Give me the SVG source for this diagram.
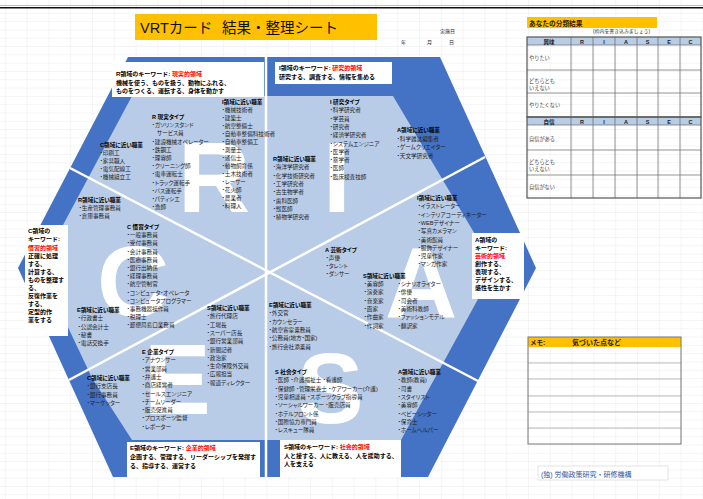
<svg xmlns="http://www.w3.org/2000/svg" width="703" height="499" viewBox="0 0 703 499">
<defs>
<pattern id="grid" x="4.8" y="4.6" width="21.8" height="8.3" patternUnits="userSpaceOnUse">
<path d="M0 0.25H21.8M0.25 0V8.3" fill="none" stroke="#e4e4e4" stroke-width="0.5"/>
</pattern>
<style>
text{font-family:"Liberation Sans","Noto Sans CJK JP",sans-serif}
.t{font-size:5.6px;fill:#222;font-feature-settings:"palt"}
.h{font-weight:bold;fill:#000}
.k{font-size:6px;font-weight:bold;fill:#000}
.red{fill:#ff0000}
.big{font-size:100px;font-weight:bold;fill:#fff}
.box{fill:#fff}
.div{stroke:#fff;stroke-width:2.5;fill:none}
.cell{fill:none;stroke:#666;stroke-width:0.7}
.frame{fill:none;stroke:#555;stroke-width:1.2}
.lab{font-size:5.2px;fill:#444}
.hd{font-size:5.5px;font-weight:bold;fill:#222;text-anchor:middle}
</style>
</defs>
<rect width="703" height="499" fill="#fff"/>
<rect width="703" height="499" fill="url(#grid)"/>
<line x1="0" y1="5.5" x2="703" y2="5.5" stroke="#999" stroke-width="0.6"/>
<line x1="0" y1="7.8" x2="703" y2="7.8" stroke="#111" stroke-width="1.6"/>

<g id="title">
<rect x="135" y="14" width="242" height="26" fill="#ffc000"/>
<text x="140" y="33" font-size="14.5" fill="#111">VRTカード</text>
<text x="222" y="33" font-size="14.5" fill="#111">結果・整理シート</text>
</g>
<g id="date" font-size="5" fill="#222">
<text x="440" y="33">実施日</text>
<text x="401" y="44">年</text>
<text x="427" y="44">月</text>
<text x="449" y="44">日</text>
</g>

<g id="hexagon">
<polygon points="128,57 440,57 536,268 428,477 113,477 18,268" fill="#4472c4"/>
<polygon points="132,96 393,96 495,268 401,440 132,440 92,378 40,268" fill="#b8cbe7"/>
</g>

<g id="connectors">
<line class="div" x1="266" y1="57" x2="266" y2="477"/>
<line class="div" x1="70" y1="168" x2="478" y2="381"/>
<line class="div" x1="69" y1="380" x2="485" y2="157"/>
</g>

<g id="letters">
<text class="big" x="178" y="212">R</text>
<text class="big" x="323" y="212">I</text>
<text class="big" x="385" y="318">A</text>
<text class="big" x="97" y="316">C</text>
<text class="big" x="144" y="414">E</text>
<text class="big" x="297" y="423">S</text>
</g>

<g id="sector-R">
<text class="t" x="152" y="119"><tspan class="h">R 現実タイプ</tspan><tspan x="152" dy="8.2">・ガソリンスタンド</tspan><tspan x="157" dy="8.2">サービス員</tspan><tspan x="152" dy="8.2">・建設機械オペレーター</tspan><tspan x="152" dy="8.2">・鉄鋼工</tspan><tspan x="152" dy="8.2">・理容師</tspan><tspan x="152" dy="8.2">・クリーニング師</tspan><tspan x="152" dy="8.2">・電車運転士</tspan><tspan x="152" dy="8.2">・トラック運転手</tspan><tspan x="152" dy="8.2">・バス運転手</tspan><tspan x="152" dy="8.2">・パティシエ</tspan><tspan x="152" dy="8.2">・漁師</tspan></text>
<text class="t" x="222" y="104"><tspan class="h">I領域に近い職業</tspan><tspan x="222" dy="8">・機械技術者</tspan><tspan x="222" dy="8">・建築士</tspan><tspan x="222" dy="8">・航空整備士</tspan><tspan x="222" dy="8">・自動車整備科技術者</tspan><tspan x="222" dy="8">・自動車整備工</tspan><tspan x="222" dy="8">・測量士</tspan><tspan x="222" dy="8">・通信士</tspan><tspan x="222" dy="8">・動物飼育係</tspan><tspan x="222" dy="8">・土木技術者</tspan><tspan x="222" dy="8">・レーサー</tspan><tspan x="222" dy="8">・花火師</tspan><tspan x="222" dy="8">・農業者</tspan><tspan x="222" dy="8">・料理人</tspan></text>
<text class="t" x="100" y="147"><tspan class="h">C領域に近い職業</tspan><tspan x="100" dy="8">・印刷工</tspan><tspan x="100" dy="8">・家具職人</tspan><tspan x="100" dy="8">・電気配線工</tspan><tspan x="100" dy="8">・機械組立工</tspan></text>
</g>

<g id="sector-I">
<text class="t" x="330" y="104"><tspan class="h">I 研究タイプ</tspan><tspan x="330" dy="8.3">・科学研究者</tspan><tspan x="330" dy="8.3">・学芸員</tspan><tspan x="330" dy="8.3">・研究者</tspan><tspan x="330" dy="8.3">・経済学研究者</tspan><tspan x="330" dy="8.3">・システムエンジニア</tspan><tspan x="330" dy="8.3">・医学者</tspan><tspan x="330" dy="8.3">・薬学者</tspan><tspan x="330" dy="8.3">・医師</tspan><tspan x="330" dy="8.3">・臨床検査技師</tspan></text>
<text class="t" x="273" y="161"><tspan class="h">R領域に近い職業</tspan><tspan x="273" dy="8.3">・海洋学研究者</tspan><tspan x="273" dy="8.3">・化学技術研究者</tspan><tspan x="273" dy="8.3">・工学研究者</tspan><tspan x="273" dy="8.3">・古生物学者</tspan><tspan x="273" dy="8.3">・歯科医師</tspan><tspan x="273" dy="8.3">・獣医師</tspan><tspan x="273" dy="8.3">・植物学研究者</tspan></text>
<text class="t" x="397" y="132"><tspan class="h">A領域に近い職業</tspan><tspan x="397" dy="8.5">・科学雑誌編集者</tspan><tspan x="397" dy="8.5">・ゲームクリエイター</tspan><tspan x="397" dy="8.5">・天文学研究者</tspan></text>
</g>

<g id="sector-A">
<text class="t" x="417" y="200"><tspan class="h">I領域に近い職業</tspan><tspan x="418" dy="8.3">・イラストレーター</tspan><tspan x="418" dy="8.3">・インテリアコーディネーター</tspan><tspan x="418" dy="8.3">・WEBデザイナー</tspan><tspan x="418" dy="8.3">・写真カメラマン</tspan><tspan x="418" dy="8.3">・美術館員</tspan><tspan x="418" dy="8.3">・服飾デザイナー</tspan><tspan x="418" dy="8.3">・児童作家</tspan><tspan x="418" dy="8.3">・マンガ作家</tspan></text>
<text class="t" x="325" y="252"><tspan class="h">A 芸術タイプ</tspan><tspan x="326" dy="8">・声優</tspan><tspan x="326" dy="8">・タレント</tspan><tspan x="326" dy="8">・ダンサー</tspan></text>
<text class="t" x="363" y="278"><tspan class="h">S領域に近い職業</tspan><tspan x="364" dy="8">・美容師</tspan><tspan x="364" dy="8.3">・演奏家</tspan><tspan x="364" dy="8.3">・音楽家</tspan><tspan x="364" dy="8.3">・画家</tspan><tspan x="364" dy="8.3">・作曲家</tspan><tspan x="364" dy="8.3">・作詞家</tspan></text>
<text class="t" x="398" y="286"><tspan>・シナリオライター</tspan><tspan x="398" dy="8.3">・俳優</tspan><tspan x="398" dy="8.3">・司会者</tspan><tspan x="398" dy="8.3">・美術科教師</tspan><tspan x="398" dy="8.3">・ファッションモデル</tspan><tspan x="398" dy="8.3">・翻訳家</tspan></text>
</g>

<g id="sector-S">
<text class="t" x="269" y="307"><tspan class="h">E領域に近い職業</tspan><tspan x="269" dy="8.3">・外交官</tspan><tspan x="269" dy="8.3">・カウンセラー</tspan><tspan x="269" dy="8.3">・航空客室乗務員</tspan><tspan x="269" dy="8.3">・公務員(地方・国家)</tspan><tspan x="269" dy="8.3">・旅行会社添乗員</tspan></text>
<text class="t" x="275" y="374"><tspan class="h">S 社会タイプ</tspan><tspan x="275" dy="8.3">・医師 ・介護福祉士 ・看護師</tspan><tspan x="275" dy="8.3">・保健師 ・管理栄養士 ・ケアワーカー(介護)</tspan><tspan x="275" dy="8.3">・児童相談員 ・スポーツクラブ指導員</tspan><tspan x="275" dy="8.3">・ソーシャルワーカー ・販売店員</tspan><tspan x="275" dy="8.3">・ホテルフロント係</tspan><tspan x="275" dy="8.3">・国際協力専門員</tspan><tspan x="275" dy="8.3">・レスキュー隊員</tspan></text>
<text class="t" x="398" y="374"><tspan class="h">A領域に近い職業</tspan><tspan x="398" dy="8.3">・教師(教員)</tspan><tspan x="398" dy="8.3">・司書</tspan><tspan x="398" dy="8.3">・スタイリスト</tspan><tspan x="398" dy="8.3">・美容師</tspan><tspan x="398" dy="8.3">・ベビーシッター</tspan><tspan x="398" dy="8.3">・保育士</tspan><tspan x="398" dy="8.3">・ホームヘルパー</tspan></text>
</g>

<g id="sector-E">
<text class="t" x="207" y="310"><tspan class="h">S領域に近い職業</tspan><tspan x="207" dy="8.3">・旅行代理店</tspan><tspan x="207" dy="8.3">・工場長</tspan><tspan x="207" dy="8.3">・スーパー店長</tspan><tspan x="207" dy="8.3">・銀行営業部員</tspan><tspan x="207" dy="8.3">・新聞記者</tspan><tspan x="207" dy="8.3">・政治家</tspan><tspan x="207" dy="8.3">・生命保険外交員</tspan><tspan x="207" dy="8.3">・広報担当</tspan><tspan x="207" dy="8.3">・報道ディレクター</tspan></text>
<text class="t" x="142" y="354"><tspan class="h">E 企業タイプ</tspan><tspan x="142" dy="8.3">・アナウンサー</tspan><tspan x="142" dy="8.3">・営業部員</tspan><tspan x="142" dy="8.3">・弁護士</tspan><tspan x="142" dy="8.3">・商店経営者</tspan><tspan x="142" dy="8.3">・セールスエンジニア</tspan><tspan x="142" dy="8.3">・チームリーダー</tspan><tspan x="142" dy="8.3">・販売促進員</tspan><tspan x="142" dy="8.3">・プロスポーツ監督</tspan><tspan x="142" dy="8.3">・レポーター</tspan></text>
<text class="t" x="87" y="380"><tspan class="h">C領域に近い職業</tspan><tspan x="87" dy="8.3">・銀行支店長</tspan><tspan x="87" dy="8.3">・銀行事務員</tspan><tspan x="87" dy="8.3">・マーケッター</tspan></text>
</g>

<g id="sector-C">
<text class="t" x="78" y="202"><tspan class="h">R領域に近い職業</tspan><tspan x="79" dy="8">・生産管理事務員</tspan><tspan x="79" dy="8">・倉庫事務員</tspan></text>
<text class="t" x="127" y="229"><tspan class="h">C 慣習タイプ</tspan><tspan x="127" dy="8.2">・一般事務員</tspan><tspan x="127" dy="8.2">・受付事務員</tspan><tspan x="127" dy="8.2">・会計事務員</tspan><tspan x="127" dy="8.2">・医療事務員</tspan><tspan x="127" dy="8.2">・銀行出納係</tspan><tspan x="127" dy="8.2">・経理事務員</tspan><tspan x="127" dy="8.2">・航空管制官</tspan><tspan x="127" dy="8.2">・コンピュータ・オペレータ</tspan><tspan x="127" dy="8.2">・コンピュータプログラマー</tspan><tspan x="127" dy="8.2">・事務機器操作員</tspan><tspan x="127" dy="8.2">・税理士</tspan><tspan x="127" dy="8.2">・郵便局窓口業務員</tspan></text>
<text class="t" x="77" y="312"><tspan class="h">E領域に近い職業</tspan><tspan x="78" dy="8.3">・行政書士</tspan><tspan x="78" dy="8.3">・公認会計士</tspan><tspan x="78" dy="8.3">・秘書</tspan><tspan x="78" dy="8.3">・電話交換手</tspan></text>
</g>

<g id="kw-R">
<rect class="box" x="112" y="62" width="152" height="35"/>
<text class="k" x="116" y="76">R領域のキーワード: <tspan class="red">現実的領域</tspan></text>
<text class="k" x="116" y="84.5">機械を使う、ものを扱う、動物にふれる、</text>
<text class="k" x="116" y="92.5">ものをつくる、運転する、身体を動かす</text>
</g>
<g id="kw-I">
<rect class="box" x="275" y="62" width="117" height="22"/>
<text class="k" x="279" y="70">I領域のキーワード: <tspan class="red">研究的領域</tspan></text>
<text class="k" x="279" y="79">研究する、調査する、情報を集める</text>
</g>
<g id="kw-A">
<rect class="box" x="472" y="233" width="52" height="66"/>
<text class="k" x="475" y="242">A領域の</text>
<text class="k" x="475" y="250">キーワード:</text>
<text class="k red" x="475" y="258">芸術的領域</text>
<text class="k" x="475" y="266">創作する、</text>
<text class="k" x="475" y="274">表現する、</text>
<text class="k" x="475" y="282">デザインする、</text>
<text class="k" x="475" y="290">感性を生かす</text>
</g>
<g id="kw-S">
<rect class="box" x="280" y="440" width="121" height="37"/>
<text class="k" x="284" y="449">S領域のキーワード: <tspan class="red">社会的領域</tspan></text>
<text class="k" x="284" y="457.5">人と接する、人に教える、人を援助する、</text>
<text class="k" x="284" y="466">人を支える</text>
</g>
<g id="kw-E">
<rect class="box" x="127" y="442" width="133" height="35"/>
<text class="k" x="130" y="450">E領域のキーワード: <tspan class="red">企業的領域</tspan></text>
<text class="k" x="130" y="459">企画する、管理する、リーダーシップを発揮す</text>
<text class="k" x="130" y="468">る、指導する、運営する</text>
</g>
<g id="kw-C">
<rect class="box" x="25" y="225" width="43" height="111"/>
<text class="k" x="28" y="233">C領域の</text>
<text class="k" x="28" y="241">キーワード:</text>
<text class="k red" x="28" y="249.5">慣習的領域</text>
<text class="k" x="28" y="257.5">正確に処理</text>
<text class="k" x="28" y="265.5">する、</text>
<text class="k" x="28" y="273.5">計算する、</text>
<text class="k" x="28" y="281.5">ものを整理す</text>
<text class="k" x="28" y="289.5">る、</text>
<text class="k" x="28" y="298">反復作業を</text>
<text class="k" x="28" y="306">する、</text>
<text class="k" x="28" y="314">定型的作</text>
<text class="k" x="28" y="322">業をする</text>
</g>

<g id="result-tables">
<rect x="527" y="17" width="130" height="11" fill="#ffc000"/>
<text x="529" y="25.5" font-size="6.7" font-weight="bold" fill="#2b1d00">あなたの分類結果</text>
<text x="593" y="33" font-size="4.9" fill="#333">(枠内を書き込みましょう)</text>
<rect x="527" y="37" width="174" height="8" fill="#b8cce4"/>
<rect x="527" y="117" width="174" height="8" fill="#b8cce4"/>
<g class="cell">
<path d="M527 45H701M527 70H701M527 93H701M527 125H701M527 150H701M527 175H701"/>
<path d="M571 37V198M593 37V198M615 37V198M637 37V198M658 37V198M680 37V198"/>
</g>
<rect class="frame" x="527" y="37" width="174" height="80"/>
<rect class="frame" x="527" y="117" width="174" height="81"/>
<text class="hd" x="549" y="43.5">興味</text>
<text class="hd" x="582" y="43.5">R</text><text class="hd" x="604" y="43.5">I</text><text class="hd" x="626" y="43.5">A</text><text class="hd" x="647.5" y="43.5">S</text><text class="hd" x="669" y="43.5">E</text><text class="hd" x="690.5" y="43.5">C</text>
<text class="lab" x="529" y="59.5">やりたい</text>
<text class="lab" x="529" y="83">どちらとも</text>
<text class="lab" x="529" y="90">いえない</text>
<text class="lab" x="529" y="107">やりたくない</text>
<text class="hd" x="549" y="123.5">自信</text>
<text class="hd" x="582" y="123.5">R</text><text class="hd" x="604" y="123.5">I</text><text class="hd" x="626" y="123.5">A</text><text class="hd" x="647.5" y="123.5">S</text><text class="hd" x="669" y="123.5">E</text><text class="hd" x="690.5" y="123.5">C</text>
<text class="lab" x="529" y="141">自信がある</text>
<text class="lab" x="529" y="163.5">どちらとも</text>
<text class="lab" x="529" y="171">いえない</text>
<text class="lab" x="529" y="188.5">自信がない</text>
</g>

<g id="memo">
<rect x="528" y="337" width="153" height="10" fill="#ffc000"/>
<text x="530" y="344.8" font-size="6.5" font-weight="bold" fill="#2b1d00">メモ:</text>
<text x="572" y="344.8" font-size="7" font-weight="bold" fill="#2b1d00">気づいた点など</text>
<path d="M528 363H681M528 379H681M528 396H681M528 412H681M528 428H681" stroke="#aaa" stroke-width="0.8" fill="none"/>
<rect x="528" y="337" width="153" height="107" fill="none" stroke="#777" stroke-width="1"/>
</g>

<g id="footer">
<rect x="538" y="466" width="130" height="14" fill="#fff" stroke="#d0d0d0" stroke-width="0.6"/>
<text x="541" y="476.5" font-size="7" fill="#2f5597">(独) 労働政策研究・研修機構</text>
</g>
</svg>
